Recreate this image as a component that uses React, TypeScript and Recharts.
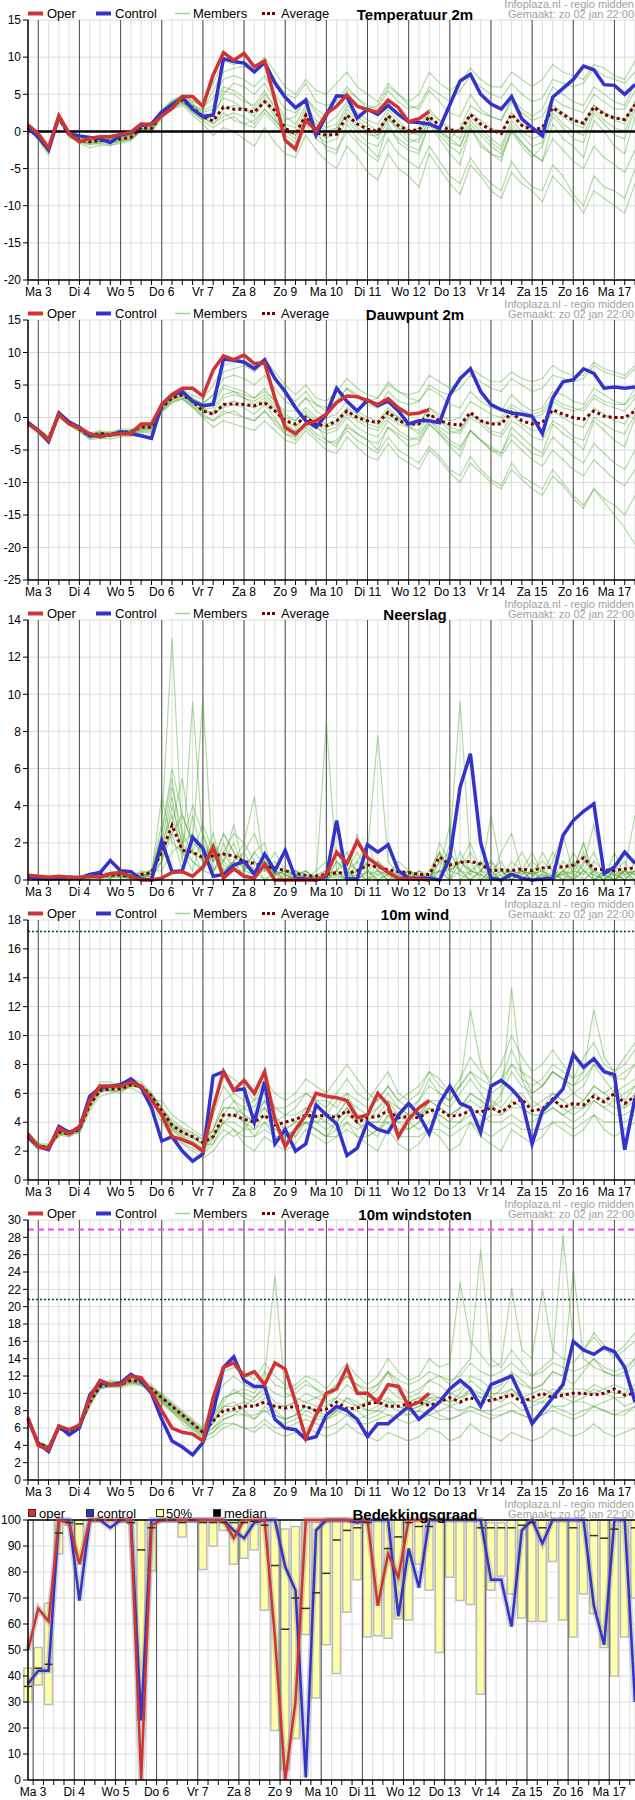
import React from 'react';
import { ComposedChart, LineChart, Line, Bar, XAxis, YAxis, CartesianGrid, ReferenceLine } from 'recharts';

const FONT = "'Liberation Sans Narrow', 'Arial Narrow', 'Liberation Sans', Arial, sans-serif";
const N = 60;

// ---------- categories / tick labels ----------
const dayLabels = ['Ma 3', 'Di 4', 'Wo 5', 'Do 6', 'Vr 7', 'Za 8', 'Zo 9', 'Ma 10', 'Di 11', 'Wo 12', 'Do 13', 'Vr 14', 'Za 15', 'Zo 16', 'Ma 17'];
const tempTicks = [-20, -15, -10, -5, 0, 5, 10, 15];
const dewTicks = [-25, -20, -15, -10, -5, 0, 5, 10, 15];
const rainTicks = [0, 2, 4, 6, 8, 10, 12, 14];
const windTicks = [0, 2, 4, 6, 8, 10, 12, 14, 16, 18];
const gustTicks = [0, 2, 4, 6, 8, 10, 12, 14, 16, 18, 20, 22, 24, 26, 28, 30];
const cloudTicks = [0, 10, 20, 30, 40, 50, 60, 70, 80, 90, 100];

// ---------- Temperatuur 2m ----------
const tempOper = [0.9,-0.3,-2.2,2.1,-0.3,-1.4,-0.9,-0.7,-0.7,-0.4,-0.1,1.0,0.9,2.1,3.1,4.7,4.7,3.4,7.6,10.6,9.6,10.5,8.7,9.5,4.3,-1.2,-2.4,1.5,0.1,2.4,3.4,4.9,3.4,2.9,2.6,4.2,3.2,1.3,1.7,2.7];
const tempCtrl = [0.4,-0.7,-2.5,2.0,-0.3,-0.6,-0.8,-1.0,-1.5,-0.5,-0.2,0.8,1.0,2.6,3.6,4.6,3.0,2.0,2.2,9.8,9.4,9.2,8.0,9.3,6.5,4.6,3.2,4.2,-0.5,2.2,4.8,4.7,1.8,3.0,2.3,3.5,2.3,1.3,1.2,1.0,0.4,3.6,6.8,7.7,5.0,3.7,3.0,4.7,1.7,0.5,-0.6,4.6,5.8,7.0,8.8,8.3,6.3,6.2,5.0,6.3];
const tempAvg = [0.5,-0.8,-2.3,1.8,-0.5,-1.2,-1.4,-1.2,-1.3,-1.0,-0.8,0.5,0.4,2.3,3.5,4.2,3.2,2.0,1.4,3.3,3.0,3.0,2.6,4.0,2.8,0.4,-0.3,2.2,-0.2,-0.5,-0.4,2.2,1.0,0.3,0.0,2.1,0.8,0.1,0.2,2.0,0.8,0.2,0.0,2.3,1.0,0.2,-0.3,2.3,0.8,0.2,0.5,3.2,2.3,1.5,1.1,3.3,2.3,1.8,1.6,3.6];
const tempM1 = [0.8,-0.5,-2.0,2.0,-0.3,-0.8,-1.0,-0.6,-0.8,-0.5,-0.2,1.0,1.0,2.8,4.0,4.5,3.5,3.0,5.5,8.0,8.5,8.8,8.0,9.0,7.0,5.0,4.5,6.5,4.0,3.5,4.0,6.0,4.5,3.5,3.0,5.5,4.0,3.0,3.5,6.0,5.0,4.0,5.5,7.5,6.0,5.0,4.5,6.5,5.0,4.0,4.5,7.0,6.5,6.0,6.5,8.5,7.5,7.0,6.5,8.0];
const tempM2 = [0.5,-1.0,-2.8,1.5,-0.6,-1.5,-1.8,-1.5,-1.5,-1.2,-1.0,0.2,0.0,2.0,3.0,3.8,2.5,1.5,0.5,1.5,2.0,1.0,0.5,2.5,1.0,-0.5,-1.5,1.0,-1.0,-2.0,-2.5,0.0,-1.5,-3.0,-4.0,-1.0,-3.0,-4.0,-5.0,-2.0,-4.0,-6.0,-7.0,-3.5,-5.5,-7.0,-8.0,-4.0,-6.0,-7.5,-8.0,-4.5,-6.0,-8.5,-10.0,-6.0,-7.5,-8.0,-9.0,-5.0];
const tempM3 = [0.7,-0.8,-2.4,1.8,-0.4,-1.2,-1.3,-1.2,-1.0,-0.8,-0.5,0.6,0.5,2.5,3.8,4.2,3.0,2.5,2.0,5.0,6.5,6.0,5.0,6.5,4.0,2.0,1.0,3.5,1.5,0.5,1.0,3.5,2.0,1.0,0.0,2.5,1.0,0.0,0.5,3.0,1.5,0.0,-1.0,2.0,0.5,-1.0,-2.0,1.5,0.0,-1.0,-0.5,3.0,2.0,1.0,0.5,3.5,2.5,1.5,1.0,4.0];
const tempM4 = [0.6,-0.7,-2.2,2.1,-0.2,-1.0,-1.5,-1.3,-1.6,-1.3,-0.9,0.4,0.3,2.2,3.4,4.6,3.8,2.0,1.0,2.5,1.5,1.0,1.5,3.0,1.5,0.0,-0.5,2.5,0.0,-1.0,0.5,2.0,0.5,-0.5,-0.5,2.0,0.0,-1.5,-1.0,1.5,-0.5,-2.0,-3.0,0.5,-1.5,-3.0,-3.5,0.0,-2.0,-3.5,-2.0,2.0,0.5,-1.0,-1.5,2.5,1.0,-0.5,-1.0,3.0];
const tempM5 = [0.9,-0.4,-2.0,2.2,0.0,-0.7,-0.9,-0.8,-0.5,-0.4,0.0,1.2,1.1,3.0,4.2,4.8,4.0,3.5,6.5,9.5,9.0,9.5,8.5,10.0,8.0,6.0,5.0,7.0,5.5,5.0,6.5,8.0,6.0,5.0,4.0,6.5,5.0,3.5,3.0,5.5,4.0,2.5,2.0,5.0,3.0,2.0,1.5,4.5,3.0,2.0,3.0,6.0,5.0,4.0,3.5,6.0,5.0,4.0,3.5,6.5];
const tempM6 = [0.4,-1.2,-3.2,1.4,-0.8,-1.6,-2.2,-1.8,-1.9,-1.6,-1.2,0.0,-0.2,1.8,3.0,3.5,2.2,1.0,-0.5,0.5,0.0,-1.0,-2.0,0.5,-1.5,-3.0,-3.5,-0.5,-2.5,-4.0,-5.0,-2.0,-3.5,-5.5,-6.5,-3.0,-5.0,-6.0,-7.5,-3.0,-5.0,-7.0,-8.5,-4.5,-6.0,-8.0,-9.0,-5.5,-7.0,-8.0,-9.5,-6.0,-7.5,-9.0,-11.0,-8.0,-9.0,-10.0,-11.0,-7.0];
const tempM7 = [0.8,-0.6,-2.5,1.9,-0.5,-1.1,-1.2,-1.0,-1.1,-0.7,-0.6,0.8,0.7,2.6,3.6,4.4,3.3,2.8,3.5,6.0,5.5,4.5,3.0,5.0,3.5,1.5,2.0,4.5,3.0,2.0,3.5,5.5,4.5,3.0,3.5,6.0,5.0,4.0,5.0,8.0,6.5,5.5,6.5,8.5,7.0,6.0,6.0,8.0,7.0,6.0,7.0,9.0,8.0,7.5,7.0,9.0,8.5,7.5,7.0,9.5];
const tempM8 = [0.6,-0.9,-2.6,1.7,-0.7,-1.3,-1.6,-1.4,-1.2,-1.0,-0.7,0.3,0.4,2.4,3.5,4.0,3.0,2.0,1.5,3.0,3.5,3.0,2.0,4.0,2.0,-1.0,-2.0,1.5,0.5,-2.5,-3.0,1.0,-1.0,-2.0,-3.5,1.0,-1.5,-2.5,-3.0,1.0,-1.0,-3.0,-4.5,0.5,-2.0,-3.0,-4.0,0.5,-1.5,-3.0,-4.0,1.0,-1.0,-2.0,-3.5,1.5,0.0,-2.0,-3.0,2.0];
const tempM9 = [0.7,-0.6,-2.3,2.0,-0.4,-1.0,-1.1,-0.9,-1.0,-0.6,-0.4,0.7,0.6,2.6,3.9,4.7,3.6,2.6,3.0,5.5,5.0,4.0,3.5,5.5,3.0,1.0,0.5,3.0,1.0,0.0,0.5,3.0,1.5,0.5,-0.5,2.0,0.5,-1.0,-1.5,1.5,0.0,-1.5,-2.0,1.5,0.0,-1.5,-2.5,1.0,-0.5,-2.0,-1.5,2.5,1.0,0.0,-0.5,3.0,1.5,0.5,0.0,3.5];
const tempM10 = [0.6,-0.8,-2.6,1.8,-0.5,-1.3,-1.5,-1.3,-1.4,-1.1,-0.9,0.4,0.2,2.2,3.3,4.0,2.8,1.8,1.0,2.0,2.5,2.0,1.0,3.0,1.5,0.0,-1.0,2.0,0.5,-0.5,0.0,2.5,1.0,0.0,-1.0,1.5,0.5,-0.5,0.0,2.5,1.5,0.5,0.0,2.5,1.5,0.5,0.0,2.5,1.0,0.0,0.5,3.5,2.5,1.5,1.0,3.5,2.5,2.0,1.5,4.0];
const tempM11 = [0.8,-0.5,-2.1,2.1,-0.2,-0.9,-1.2,-1.1,-1.2,-0.9,-0.6,0.9,0.8,2.7,4.0,4.9,4.2,3.2,4.5,7.0,7.5,7.0,6.0,7.5,5.0,3.0,2.5,4.5,2.5,1.0,2.0,4.0,2.5,1.5,1.0,3.0,1.5,0.0,-0.5,2.0,0.5,-1.0,-2.0,1.0,-0.5,-2.0,-3.0,0.0,-1.5,-3.0,-4.0,-1.0,-2.5,-4.0,-5.0,-2.0,-3.5,-4.5,-5.5,-2.5];
const tempM12 = [0.5,-1.0,-2.7,1.6,-0.6,-1.4,-1.7,-1.6,-1.8,-1.4,-1.1,0.1,0.1,2.1,3.2,3.9,2.6,1.5,2.5,4.5,4.0,3.0,2.5,4.5,2.5,0.5,-0.5,2.0,-0.5,-1.5,-1.0,1.5,0.0,-1.5,-2.0,0.5,-1.0,-2.0,-2.5,1.0,0.0,-1.0,0.5,3.5,2.5,2.0,1.5,4.0,2.5,1.5,2.0,4.5,3.5,3.0,2.5,5.0,4.0,3.0,3.0,5.5];

// ---------- Dauwpunt 2m ----------
const dewOper = [-1.0,-2.0,-3.5,0.5,-1.0,-1.6,-2.5,-3.0,-2.6,-2.5,-2.5,-1.0,-1.0,2.0,3.5,4.5,4.5,3.3,7.3,9.5,8.9,9.6,8.3,8.4,3.0,-1.5,-2.5,-1.0,-0.5,0.5,2.3,3.3,3.2,2.6,2.0,2.9,1.5,0.5,0.7,1.2];
const dewCtrl = [-0.8,-2.0,-3.7,0.7,-0.7,-1.5,-2.8,-2.8,-2.7,-2.2,-2.5,-2.8,-3.2,2.0,3.5,4.0,2.5,1.8,2.0,9.0,8.8,8.5,7.5,8.9,6.0,4.0,1.5,-0.5,-1.5,0.5,4.5,2.5,1.0,2.7,1.8,2.5,1.0,-1.0,-0.5,-0.5,-0.8,3.5,6.0,7.5,4.0,2.0,1.2,0.7,0.5,0.2,-2.5,3.0,5.5,5.8,7.5,6.8,4.5,4.7,4.5,4.7];
const dewAvg = [-0.8,-2.0,-3.3,0.5,-0.8,-1.8,-2.8,-2.5,-2.6,-2.3,-2.2,-1.5,-1.5,1.5,3.0,3.5,2.5,1.0,0.5,2.0,2.1,2.0,1.8,2.3,1.0,-0.5,-1.0,0.0,-1.0,-1.3,-0.5,1.0,0.0,-0.5,-0.8,0.8,-0.5,-1.0,-1.0,0.5,-0.5,-1.0,-1.2,0.8,-0.5,-1.0,-1.0,0.8,-0.5,-1.0,-0.8,1.2,0.5,0.0,-0.3,1.0,0.2,0.0,0.0,1.0];
const dewM1 = [-0.6,-1.8,-3.0,0.8,-0.6,-1.5,-2.5,-2.2,-2.4,-2.0,-2.0,-1.2,-1.3,1.8,3.5,4.0,3.0,2.0,3.5,7.0,7.5,8.0,7.0,8.5,6.0,3.5,2.5,4.0,2.0,1.5,2.5,4.5,3.0,2.0,1.5,4.0,2.5,2.0,2.5,5.0,4.0,3.5,4.5,6.5,5.5,4.5,4.0,6.0,5.0,4.0,4.5,6.5,6.0,5.5,6.0,8.0,7.0,6.5,6.0,7.5];
const dewM2 = [-1.0,-2.3,-3.8,0.2,-1.0,-2.0,-3.2,-3.0,-3.0,-2.8,-2.7,-2.0,-2.0,1.0,2.5,3.0,1.8,0.5,-0.5,0.5,1.0,0.0,-0.5,1.0,-0.5,-2.0,-3.0,-1.0,-2.5,-3.5,-4.0,-2.0,-3.5,-4.5,-5.5,-3.0,-5.0,-6.0,-7.0,-4.5,-6.0,-8.0,-9.0,-6.0,-8.0,-9.5,-10.5,-7.0,-9.0,-10.0,-11.0,-8.0,-10.0,-12.0,-13.5,-11.0,-13.0,-15.0,-17.0,-19.5];
const dewM3 = [-0.8,-2.0,-3.4,0.5,-0.8,-1.8,-2.8,-2.6,-2.6,-2.3,-2.2,-1.6,-1.5,1.5,3.0,3.6,2.6,1.2,1.5,3.5,4.0,3.5,3.0,4.5,2.5,0.5,-0.5,1.5,0.0,-1.0,-0.5,1.5,0.5,-0.5,-1.0,1.0,0.0,-1.0,-1.0,1.5,0.0,-1.5,-2.0,0.5,-0.5,-2.0,-2.5,0.5,-1.0,-2.0,-2.0,1.0,0.0,-1.0,-1.5,1.5,0.5,-0.5,-1.0,1.5];
const dewM4 = [-0.7,-1.9,-3.2,0.6,-0.9,-1.7,-2.9,-2.4,-2.8,-2.4,-2.4,-1.8,-1.7,1.2,2.8,3.4,2.3,1.5,0.5,2.0,2.5,2.0,1.5,2.5,1.0,-1.0,-2.0,0.5,-1.5,-2.5,-2.0,0.0,-1.5,-2.5,-3.0,-0.5,-2.0,-3.0,-3.5,-1.0,-2.5,-4.0,-5.0,-2.0,-3.5,-5.0,-5.5,-2.5,-4.0,-5.5,-6.0,-3.0,-4.5,-6.0,-7.0,-4.0,-5.5,-7.0,-8.0,-5.0];
const dewM5 = [-0.5,-1.7,-2.9,1.0,-0.5,-1.4,-2.4,-2.0,-2.2,-1.8,-1.8,-1.0,-1.0,2.2,3.8,4.4,3.4,2.8,5.0,8.0,8.5,8.8,8.0,9.0,7.0,5.0,3.5,5.0,3.0,2.5,4.0,6.0,4.5,3.5,3.0,5.5,4.0,3.0,2.5,4.5,3.5,2.0,1.5,4.0,2.5,1.5,1.0,3.5,2.0,1.0,1.5,4.0,3.5,2.5,2.0,4.5,3.5,2.5,2.0,4.5];
const dewM6 = [-1.1,-2.5,-4.0,0.0,-1.2,-2.2,-3.4,-3.2,-3.3,-3.0,-2.9,-2.3,-2.4,0.8,2.2,2.8,1.5,0.0,-1.5,-0.5,-1.0,-1.5,-2.0,-0.5,-2.0,-3.5,-4.0,-2.0,-3.5,-5.0,-5.5,-3.0,-4.5,-6.0,-6.5,-4.0,-6.0,-7.0,-8.0,-5.0,-6.5,-8.5,-10.0,-7.0,-8.5,-10.0,-11.0,-8.0,-9.5,-11.0,-12.0,-9.0,-10.5,-12.5,-14.0,-11.0,-12.5,-13.5,-15.0,-12.0];
const dewM7 = [-0.6,-1.8,-3.1,0.7,-0.7,-1.6,-2.6,-2.3,-2.5,-2.1,-2.1,-1.4,-1.4,1.6,3.2,3.8,2.8,1.8,2.5,5.0,4.5,4.0,3.0,4.0,2.5,1.0,1.0,3.0,2.0,1.0,2.5,4.5,3.5,2.5,3.0,5.0,4.0,3.5,4.0,6.5,5.5,4.5,5.5,7.5,6.5,5.5,5.5,7.0,6.0,5.5,6.0,8.0,7.0,6.5,6.5,8.5,7.5,7.0,6.5,8.0];
const dewM8 = [-0.9,-2.1,-3.5,0.3,-1.1,-1.9,-3.0,-2.8,-2.7,-2.5,-2.5,-1.9,-1.8,1.3,2.7,3.2,2.0,1.0,0.5,1.5,2.0,1.5,0.5,2.0,0.0,-2.5,-3.0,-0.5,-1.0,-3.5,-4.5,-1.0,-2.5,-3.5,-5.0,-1.5,-3.0,-4.5,-4.0,-1.0,-2.5,-4.5,-6.0,-2.0,-3.5,-4.5,-5.5,-1.5,-3.0,-4.5,-5.5,-1.0,-2.5,-3.5,-5.0,-0.5,-2.0,-3.5,-4.5,0.0];
const dewM9 = [-0.7,-1.9,-3.3,0.6,-0.8,-1.7,-2.7,-2.4,-2.5,-2.2,-2.1,-1.5,-1.4,1.6,3.1,3.7,2.7,1.5,2.0,4.5,4.0,3.0,2.5,3.5,2.0,0.0,-0.5,1.0,-0.5,-1.5,-1.0,1.0,0.0,-1.0,-1.5,0.5,-0.5,-1.5,-2.0,0.5,-0.5,-2.0,-2.5,0.0,-1.0,-2.5,-3.0,-0.5,-1.5,-3.0,-3.5,-0.5,-1.5,-3.0,-3.5,0.0,-1.0,-2.0,-2.5,0.5];
const dewM10 = [-0.9,-2.2,-3.6,0.4,-0.9,-1.9,-2.9,-2.7,-2.8,-2.4,-2.3,-1.7,-1.6,1.4,2.9,3.4,2.2,0.8,1.0,3.0,3.5,3.0,2.0,3.0,1.5,-0.5,-1.5,0.5,-1.0,-2.0,-1.5,0.5,-0.5,-1.5,-2.0,0.0,-1.0,-1.5,-1.0,1.5,0.5,-0.5,0.0,2.5,1.5,0.5,0.0,2.0,1.0,0.5,1.0,3.0,2.0,1.5,1.0,3.0,2.0,1.5,1.0,3.0];
const dewM11 = [-0.8,-2.0,-3.2,0.6,-0.7,-1.6,-2.6,-2.3,-2.4,-2.1,-2.0,-1.3,-1.2,1.7,3.3,3.9,2.9,2.2,3.5,6.0,6.5,6.0,5.0,6.5,4.5,2.5,1.5,3.0,1.0,0.0,0.5,2.5,1.0,0.0,-0.5,1.5,0.0,-1.5,-2.5,-0.5,-2.0,-3.5,-4.5,-2.0,-3.5,-5.0,-6.0,-3.5,-5.0,-6.5,-7.5,-5.0,-6.5,-8.0,-9.0,-6.5,-8.0,-9.5,-10.5,-8.0];
const dewM12 = [-1.0,-2.4,-3.9,0.1,-1.1,-2.1,-3.1,-2.9,-2.9,-2.7,-2.6,-2.1,-2.2,0.9,2.4,2.9,1.7,0.2,-0.5,1.0,0.5,0.0,-0.5,1.0,-1.0,-2.5,-3.5,-1.5,-3.0,-4.0,-3.5,-1.5,-2.5,-3.5,-4.0,-1.5,-2.5,-3.5,-3.0,-0.5,-1.5,-2.5,-2.0,0.5,-0.5,-1.0,-0.5,1.5,0.5,0.0,0.5,2.5,1.5,1.0,1.5,3.5,2.5,2.0,2.0,3.5];

// ---------- Neerslag ----------
const rainOper = [0.25,0.2,0.15,0.2,0.15,0.15,0.2,0.15,0.35,0.4,0.2,0.0,0.0,0.1,0.4,0.45,0.2,0.7,1.75,0.1,0.6,0.2,0.1,0.85,0.0,0.0,0.0,0.0,0.0,0.3,1.5,0.9,2.1,1.2,0.8,0.4,0.1,0.05,0.05,0.0];
const rainCtrl = [0.15,0.1,0.05,0.1,0.15,0.1,0.3,0.4,1.05,0.5,0.45,0.05,0.0,2.1,0.45,0.5,2.3,1.7,0.2,0.3,0.8,1.0,0.3,1.4,0.5,1.6,0.1,0.05,0.0,0.2,3.2,0.05,0.05,1.9,1.5,1.9,0.5,0.1,0.1,0.1,0.0,1.2,5.0,6.8,2.0,0.1,0.0,0.3,0.1,0.0,0.05,0.1,2.4,3.2,3.7,4.1,0.35,0.7,1.5,0.9];
const rainAvg = [0.25,0.15,0.1,0.1,0.1,0.1,0.2,0.3,0.25,0.3,0.15,0.3,0.4,1.5,2.95,1.6,1.5,1.2,1.3,1.4,1.3,1.0,0.9,0.7,0.65,0.5,0.35,0.25,0.2,0.3,0.4,0.35,0.5,0.8,0.7,0.55,0.45,0.4,0.3,0.3,1.25,0.8,0.95,1.0,0.85,0.5,0.55,0.5,0.6,0.5,0.65,0.7,0.7,0.8,1.2,0.6,0.55,0.5,0.6,0.65];
const rainM1 = [0.2,0.1,0.1,0.0,0.1,0.0,0.2,0.3,0.2,0.3,0.1,0.2,0.5,3.0,13.0,2.0,1.0,0.5,1.5,0.8,0.5,1.0,0.3,0.5,0.2,0.5,0.0,0.0,0.3,0.5,0.2,0.0,1.0,2.0,0.5,0.0,0.0,0.2,0.0,0.0,1.5,0.5,1.0,2.0,0.5,0.0,0.3,0.5,1.5,0.5,0.2,0.0,0.5,1.0,0.5,0.3,0.0,0.5,1.0,0.2];
const rainM2 = [0.3,0.2,0.0,0.1,0.0,0.1,0.1,0.5,0.3,0.2,0.0,0.3,0.2,1.5,4.5,1.0,9.6,2.0,1.0,2.5,1.5,0.5,1.0,0.0,0.5,0.0,0.2,0.5,0.0,0.0,0.5,1.5,0.3,0.0,1.0,0.5,0.2,0.0,0.5,0.3,0.0,2.0,9.6,1.0,0.0,0.5,0.0,1.0,0.5,0.0,1.5,0.5,0.0,0.2,0.8,3.0,0.5,0.0,0.3,0.5];
const rainM3 = [0.1,0.2,0.1,0.0,0.2,0.1,0.0,0.2,0.4,0.1,0.2,0.5,0.3,2.5,6.0,3.5,2.0,9.8,0.5,1.0,3.0,0.5,1.5,2.0,0.0,0.3,0.0,0.2,0.0,8.5,0.5,0.0,2.5,0.5,0.0,0.3,1.0,0.5,0.0,0.2,0.5,0.0,1.0,0.5,0.2,3.5,0.5,0.0,0.0,0.5,0.0,1.0,2.5,0.3,0.0,0.5,0.0,1.5,0.2,0.0];
const rainM4 = [0.2,0.0,0.2,0.1,0.0,0.2,0.3,0.1,0.1,0.5,0.1,0.0,0.6,1.0,3.0,5.5,1.5,1.0,2.5,0.3,1.0,2.0,4.5,0.5,1.0,0.2,0.5,0.0,0.0,0.3,0.0,0.5,0.0,1.5,7.8,1.0,0.3,0.0,0.2,0.0,0.3,1.5,0.5,0.0,0.0,0.2,0.5,0.0,0.3,1.0,0.5,0.0,0.3,0.0,0.5,1.5,0.2,0.0,0.5,3.5];
const rainM5 = [0.3,0.1,0.0,0.2,0.1,0.0,0.1,0.2,0.1,0.2,0.3,0.1,0.2,4.5,2.0,1.5,0.5,2.5,1.0,1.5,0.5,0.3,0.0,1.0,0.5,1.5,0.0,0.3,0.0,0.0,0.3,0.0,0.5,0.2,0.0,0.0,0.5,0.3,0.0,0.0,0.5,3.0,0.0,0.5,0.3,0.0,1.5,2.5,0.5,0.3,0.0,0.5,0.0,0.5,2.0,0.0,0.5,0.3,0.0,0.5];
const rainM6 = [0.2,0.1,0.1,0.0,0.0,0.1,0.2,0.4,0.2,0.1,0.2,0.2,0.4,2.0,5.0,2.5,1.5,0.5,0.3,2.0,0.5,1.5,0.5,0.0,0.3,0.5,0.3,0.0,0.5,1.0,0.0,0.0,0.3,0.0,0.5,0.2,0.0,0.0,0.5,0.0,1.0,0.5,0.3,0.0,0.5,1.0,0.2,0.0,0.5,0.0,0.3,0.0,0.5,0.0,0.5,0.0,0.3,0.0,0.5,0.0];
const rainM7 = [0.1,0.1,0.0,0.1,0.1,0.0,0.3,0.2,0.3,0.2,0.1,0.4,0.1,1.0,2.5,0.5,3.5,1.0,2.0,0.5,1.0,0.2,0.5,1.0,0.3,0.0,0.3,0.5,0.0,0.2,1.0,0.3,0.0,0.5,0.3,0.0,0.0,0.3,0.0,0.5,1.5,0.0,0.5,0.3,1.0,0.0,0.0,0.5,0.0,0.5,0.0,0.3,0.0,1.0,0.0,0.5,0.0,0.3,0.5,0.0];
const rainM8 = [0.2,0.2,0.1,0.0,0.1,0.1,0.1,0.3,0.2,0.4,0.2,0.3,0.3,2.0,3.5,1.5,1.0,0.5,1.5,1.0,2.0,0.5,0.3,1.5,0.5,0.3,0.0,0.0,0.2,0.5,0.3,0.5,1.0,0.3,0.5,0.0,0.2,0.5,0.2,0.0,0.5,0.5,1.0,0.5,0.3,0.0,0.5,0.3,0.5,0.3,0.5,0.2,0.3,0.5,0.3,1.0,0.5,0.2,0.5,0.3];
const rainM9 = [0.2,0.1,0.1,0.1,0.0,0.1,0.2,0.3,0.3,0.2,0.1,0.2,0.3,1.5,2.5,3.5,2.0,1.5,1.0,2.5,1.5,1.0,0.5,1.0,0.5,0.3,0.0,0.5,0.0,0.3,0.5,0.0,0.3,1.0,0.5,0.3,0.5,0.0,0.3,0.0,2.0,1.0,0.5,1.5,0.5,0.3,0.0,0.5,0.3,0.5,1.0,0.5,0.3,1.5,0.5,0.0,0.3,0.5,0.0,1.0];
const rainM10 = [0.3,0.2,0.1,0.0,0.1,0.2,0.1,0.2,0.2,0.3,0.2,0.4,0.5,0.5,1.5,2.0,4.0,2.5,0.5,1.5,2.5,2.0,1.0,0.5,1.5,0.5,0.3,0.0,0.2,0.0,0.5,1.0,0.5,0.0,0.3,0.5,0.0,0.5,0.0,0.3,0.5,0.0,1.5,0.5,1.0,0.5,0.0,0.3,0.5,0.0,0.3,1.5,0.5,0.0,1.0,0.5,0.3,0.0,0.5,0.3];
const rainM11 = [0.1,0.1,0.0,0.1,0.2,0.1,0.2,0.2,0.1,0.3,0.2,0.1,0.4,2.5,5.5,1.5,1.5,3.0,1.5,0.5,1.0,1.5,2.5,1.0,0.3,0.5,0.5,0.3,0.0,0.5,1.5,0.5,0.0,0.5,1.0,0.5,0.3,0.0,0.5,0.0,1.0,1.5,0.5,0.0,0.5,1.0,0.5,0.0,0.5,1.5,0.3,0.0,0.5,0.3,1.5,0.0,0.5,0.3,0.0,0.5];
const rainM12 = [0.2,0.1,0.2,0.1,0.1,0.0,0.3,0.1,0.4,0.2,0.3,0.2,0.2,1.0,4.0,2.0,2.5,1.0,2.0,1.0,0.5,0.5,1.5,0.8,0.5,0.0,0.5,0.0,0.3,0.0,1.0,0.5,1.5,0.5,0.0,0.3,0.0,0.5,0.3,0.0,1.5,0.5,1.0,0.3,0.0,0.5,1.0,0.0,0.5,0.3,0.5,0.0,1.0,0.5,2.0,0.3,0.0,0.5,0.3,0.5];

// ---------- 10m wind ----------
const windOper = [3.2,2.3,2.2,3.6,3.2,3.7,5.5,6.5,6.5,6.5,6.8,6.5,5.5,4.5,3.0,2.8,2.5,2.0,5.0,7.5,6.2,6.9,6.0,7.5,4.2,2.3,3.5,4.5,6.0,5.8,5.7,5.5,4.3,4.5,6.0,5.2,3.0,4.2,5.0,5.5];
const windCtrl = [3.0,2.3,2.1,3.7,3.3,3.6,5.8,6.4,6.5,6.6,7.0,6.4,5.0,2.7,3.0,2.0,1.3,1.8,7.2,7.5,6.2,6.3,4.0,6.8,2.5,3.5,2.0,2.5,5.2,4.5,3.9,1.7,2.2,4.0,3.5,3.3,4.5,5.3,4.5,3.2,5.3,6.5,5.3,5.0,3.3,6.5,6.9,6.3,5.5,2.5,4.8,5.5,6.3,8.7,7.8,8.4,7.5,7.3,2.1,5.7];
const windAvg = [3.0,2.3,2.3,3.3,3.2,3.5,5.2,6.2,6.3,6.3,6.6,6.5,5.8,4.8,3.8,3.3,3.0,2.6,3.0,4.5,4.5,4.2,4.0,4.5,3.8,4.0,4.2,4.5,4.4,4.5,4.3,4.8,4.0,4.3,4.4,4.8,4.3,4.4,4.3,4.8,4.9,4.4,4.5,4.8,4.7,5.0,4.7,5.2,5.6,4.8,4.9,5.6,5.0,5.3,5.2,5.8,5.4,6.0,5.3,5.8];
const windM1 = [3.0,2.4,2.2,3.4,3.0,3.6,5.5,6.8,6.8,6.5,7.0,6.8,6.0,5.0,4.0,3.5,3.2,2.8,3.5,5.5,6.0,5.5,5.0,6.5,5.0,4.5,5.0,6.0,5.5,5.0,6.0,7.0,6.0,5.5,6.5,7.5,6.0,5.5,6.0,7.5,7.0,6.0,7.0,8.5,7.5,7.0,8.0,10.0,8.5,7.5,8.0,9.0,8.0,7.0,8.5,9.5,8.0,7.5,8.5,9.5];
const windM2 = [2.8,2.0,2.4,3.0,3.4,3.2,4.8,5.8,6.0,6.2,6.4,6.0,5.2,4.0,3.0,2.5,2.0,1.5,2.0,3.0,3.5,2.5,2.0,3.0,2.5,2.0,2.5,3.5,3.0,2.5,3.0,4.0,3.0,2.5,2.0,3.5,2.5,2.0,2.5,3.5,3.0,2.0,2.5,4.0,3.0,2.5,2.0,3.5,3.0,2.5,3.0,4.0,3.5,3.0,3.5,4.5,3.5,3.0,3.5,4.0];
const windM3 = [3.2,2.6,2.0,3.8,3.3,3.8,5.8,6.5,6.4,6.8,6.9,6.6,5.5,5.5,4.5,4.0,3.5,3.0,4.5,6.5,5.5,4.5,4.0,5.5,4.5,3.5,3.0,4.5,4.0,4.5,5.5,6.0,4.5,4.0,5.0,6.0,5.0,4.5,5.5,7.0,6.0,5.5,6.5,11.8,8.0,6.5,7.0,9.0,7.5,6.0,6.5,7.5,7.0,6.0,6.5,8.0,7.0,6.0,6.5,7.0];
const windM4 = [2.9,2.2,2.3,3.2,3.1,3.4,5.0,6.0,6.6,6.4,6.6,6.4,5.8,4.5,3.5,2.8,2.5,2.2,3.0,4.0,4.5,4.0,3.5,4.5,3.5,3.0,3.5,4.5,4.0,3.5,4.0,5.0,4.0,3.5,3.0,4.5,3.5,3.5,4.0,5.0,4.5,4.0,5.0,6.0,5.5,5.0,5.5,13.3,7.0,5.5,5.0,6.0,5.5,5.0,5.5,6.5,6.0,5.5,6.0,6.5];
const windM5 = [3.3,2.5,2.5,3.5,3.2,3.5,5.3,6.3,6.2,6.0,6.6,6.3,5.6,4.8,3.8,3.3,3.0,2.5,5.0,7.5,7.0,6.5,5.5,7.0,6.0,5.5,6.0,7.0,6.5,6.0,7.0,8.0,7.0,6.0,5.5,6.5,5.5,5.0,5.5,6.5,6.0,5.5,6.5,7.5,6.5,6.0,6.5,8.0,7.0,6.5,7.0,8.0,7.5,7.0,7.5,11.8,8.5,7.5,8.0,9.0];
const windM6 = [2.9,2.3,2.1,3.1,3.0,3.3,5.2,6.1,6.3,6.6,6.7,6.5,5.9,4.2,3.2,2.6,2.2,1.8,2.5,3.5,3.0,3.5,4.5,5.0,4.0,3.5,4.0,5.0,4.5,4.0,4.5,5.5,5.0,4.5,4.5,5.5,5.0,4.5,4.5,5.5,5.0,4.5,5.0,6.0,5.5,5.0,4.5,5.5,5.0,4.5,4.5,5.5,5.0,4.5,5.0,6.0,5.5,5.0,5.0,6.0];
const windM7 = [3.1,2.4,2.4,3.3,3.3,3.6,5.4,6.4,6.1,6.3,6.5,6.6,5.7,4.6,3.6,3.0,2.6,2.0,3.5,5.0,5.0,4.0,3.0,4.0,3.0,2.5,3.0,4.0,3.5,3.0,3.5,4.5,4.0,3.0,3.5,4.5,4.0,3.5,4.0,5.5,5.5,5.0,6.0,7.0,6.0,5.0,6.0,7.5,6.5,6.0,6.5,7.5,7.0,6.5,7.5,8.5,7.5,7.0,7.0,8.0];
const windM8 = [3.0,2.3,2.3,3.5,3.1,3.7,5.6,6.2,6.5,6.4,6.5,6.4,5.5,4.4,3.4,2.9,2.4,2.0,2.8,4.5,5.5,5.0,4.5,5.5,4.0,3.0,3.5,4.0,3.5,3.0,4.0,5.0,4.5,4.0,4.0,5.0,4.5,4.0,4.5,5.0,4.0,3.5,4.0,5.0,4.5,4.0,4.0,4.5,4.0,4.0,4.5,5.0,4.5,4.0,4.5,5.5,5.0,4.5,4.5,5.0];
const windM9 = [3.1,2.5,2.2,3.4,3.2,3.5,5.3,6.3,6.4,6.5,6.7,6.5,5.9,4.9,3.9,3.4,3.0,2.5,3.5,5.0,5.0,4.5,4.0,5.0,4.0,4.5,4.5,5.0,4.5,4.5,4.5,5.5,4.5,4.5,5.0,5.5,4.5,4.5,4.5,5.5,5.0,4.5,5.0,5.5,5.0,5.5,5.0,6.0,6.0,5.0,5.5,6.0,5.5,6.0,5.5,6.5,6.0,6.5,5.5,6.5];
const windM10 = [2.9,2.2,2.2,3.2,3.1,3.4,5.1,6.1,6.2,6.2,6.5,6.4,5.7,4.7,3.7,3.2,2.9,2.4,2.5,4.0,4.0,3.5,3.5,4.0,3.5,3.5,4.0,4.0,4.0,4.0,3.5,4.0,3.5,4.0,4.0,4.0,4.0,4.0,3.5,4.0,4.5,4.0,4.0,4.5,4.0,4.5,4.5,5.0,5.0,4.5,4.5,5.0,4.5,5.0,5.0,5.5,5.0,5.5,5.0,5.5];
const windM11 = [3.2,2.4,2.4,3.4,3.3,3.6,5.4,6.3,6.4,6.3,6.6,6.6,6.0,5.0,4.2,3.6,3.3,2.8,3.0,4.5,4.5,5.0,5.5,6.0,5.0,5.0,5.5,6.0,5.5,5.5,5.0,6.0,5.5,5.0,5.5,6.5,5.5,6.0,6.5,7.5,6.5,6.0,6.5,7.5,7.0,6.5,7.0,8.0,7.5,7.0,6.5,7.5,7.0,6.5,7.0,8.0,7.5,7.0,7.5,8.0];
const windM12 = [3.0,2.3,2.2,3.3,3.2,3.5,5.2,6.2,6.3,6.4,6.6,6.4,5.8,4.6,3.6,3.1,2.7,2.2,3.0,4.0,3.5,3.0,3.0,3.5,3.0,3.0,3.5,4.0,3.5,3.0,3.0,3.5,3.0,3.0,3.5,4.0,3.0,3.0,3.0,3.5,3.5,3.0,3.5,4.0,3.5,3.0,3.5,4.0,3.5,3.5,3.5,4.0,4.0,3.5,4.0,4.5,4.0,4.0,4.0,4.5];

// ---------- 10m windstoten ----------
const gustOper = [7.2,4.0,3.5,6.2,5.8,6.3,9.5,11.5,11.0,11.0,12.0,11.8,10.2,8.0,6.0,5.5,5.3,4.5,9.5,13.0,13.5,12.0,12.5,11.0,13.5,12.8,9.0,4.8,7.5,10.0,10.5,13.0,10.0,10.0,9.0,11.0,10.8,8.5,9.0,10.0];
const gustCtrl = [7.0,4.2,3.3,6.2,5.2,6.0,9.8,11.2,11.0,11.2,12.2,11.5,10.0,7.0,4.5,3.8,2.9,4.3,7.8,13.0,14.2,11.5,10.8,10.8,7.0,6.0,5.8,4.7,5.0,7.5,8.5,8.0,7.0,5.0,6.5,6.5,7.5,8.5,7.0,8.0,9.0,10.5,11.5,10.5,8.5,11.0,11.5,12.0,9.5,6.5,8.0,9.5,11.0,16.0,15.0,14.5,15.3,14.8,13.0,9.0];
const gustAvg = [7.0,4.2,3.8,6.0,5.5,6.2,9.0,10.8,11.0,11.0,11.5,11.3,10.5,9.5,8.5,7.5,6.5,5.5,6.8,8.0,8.2,8.5,8.5,9.0,8.5,8.3,8.5,8.5,8.0,8.2,9.0,8.2,8.3,8.8,9.0,8.5,8.5,8.8,9.0,8.6,9.0,9.5,9.0,9.5,9.0,9.2,9.5,9.8,9.0,9.5,10.0,9.5,9.8,10.0,10.0,9.8,10.0,10.5,9.8,10.0];
const gustM1 = [7.0,4.3,3.6,6.2,5.6,6.4,9.5,11.5,11.2,11.0,11.8,11.5,10.8,9.5,8.5,7.5,6.5,5.5,7.5,9.5,10.0,10.5,10.0,12.0,23.6,10.0,9.5,9.0,9.5,10.0,11.0,12.0,10.5,9.5,10.5,12.5,10.0,9.5,10.0,11.5,12.0,11.0,12.5,14.0,26.6,14.0,13.0,15.0,13.5,12.0,13.0,14.0,28.2,16.0,15.0,17.0,15.5,14.0,15.0,16.0];
const gustM2 = [6.8,4.0,4.0,5.8,5.4,6.0,8.5,10.5,10.8,10.8,11.2,11.0,10.2,9.0,8.0,6.5,5.5,4.5,5.0,6.0,6.5,6.0,5.5,6.5,5.5,5.0,5.5,6.0,5.5,5.0,5.5,6.5,5.5,5.0,4.5,5.5,5.0,4.5,5.0,6.0,5.5,4.5,5.0,6.5,5.5,5.0,4.5,5.5,5.0,4.5,5.0,6.0,5.5,5.0,5.5,6.5,5.5,5.0,5.5,6.0];
const gustM3 = [7.2,4.5,3.8,6.4,5.8,6.6,9.8,11.2,11.5,11.3,11.6,11.4,10.6,10.0,9.0,8.0,7.0,6.0,8.5,11.0,12.0,11.0,10.5,12.5,11.0,10.5,11.0,12.0,11.5,10.5,12.0,13.5,12.0,11.0,12.0,14.0,12.5,11.5,12.0,14.0,13.0,13.5,22.8,16.0,14.5,13.0,13.5,22.2,15.0,14.0,22.0,15.0,14.0,13.5,15.0,16.5,15.0,14.5,15.5,17.0];
const gustM4 = [6.9,4.1,3.7,6.0,5.5,6.1,8.8,10.8,11.0,10.9,11.4,11.2,10.4,9.2,8.2,7.0,6.0,5.0,6.0,7.5,8.0,7.5,7.0,8.5,7.5,7.0,7.5,8.5,8.0,7.5,8.0,9.5,8.5,8.0,8.5,9.5,8.5,8.0,8.5,9.5,9.0,8.5,9.0,10.5,9.5,9.0,9.5,10.5,9.5,9.0,9.5,10.5,10.0,9.5,10.0,11.0,10.5,10.0,10.0,11.0];
const gustM5 = [7.3,4.4,3.9,6.3,5.9,6.5,9.6,11.0,11.3,11.4,11.9,11.6,11.0,9.8,8.8,7.8,6.8,5.8,9.0,12.5,13.0,12.5,11.5,13.5,12.0,11.0,10.5,11.5,10.5,9.5,10.5,12.0,11.0,10.0,11.0,12.5,11.0,10.0,10.5,11.5,11.0,10.0,10.5,12.0,11.5,10.5,11.0,12.5,11.5,10.5,11.0,12.5,12.0,24.3,14.0,13.0,12.5,12.0,12.5,14.0];
const gustM6 = [6.7,3.9,3.5,5.9,5.3,5.9,8.6,10.6,10.7,10.6,11.0,10.9,10.0,8.8,7.8,6.8,5.8,4.8,5.5,7.0,7.5,8.5,9.5,10.5,9.0,8.5,9.0,10.0,9.5,9.0,9.5,11.0,10.0,9.0,9.5,10.5,9.5,9.0,9.5,10.0,9.5,9.0,9.5,10.5,10.0,9.5,9.0,10.0,9.5,9.0,9.0,10.0,9.5,9.0,9.5,10.5,10.0,9.5,9.5,10.5];
const gustM7 = [7.1,4.2,3.7,6.1,5.7,6.3,9.2,11.1,10.9,11.1,11.5,11.3,10.5,9.4,8.4,7.2,6.2,5.2,6.8,8.5,9.0,8.0,7.0,8.0,7.0,6.5,7.0,8.0,7.5,7.0,7.5,8.5,8.0,7.0,7.5,8.5,8.0,7.5,8.0,9.5,9.5,9.0,10.0,11.5,10.5,9.5,10.5,12.0,11.0,10.5,11.0,12.5,12.0,11.0,12.5,14.0,12.5,12.0,12.0,13.5];
const gustM8 = [7.0,4.2,3.9,6.4,5.6,6.2,9.3,10.9,11.1,11.2,11.3,11.1,10.3,9.2,8.0,7.3,6.3,5.3,6.5,9.0,10.5,9.5,9.0,10.0,8.0,7.0,7.5,8.5,8.0,7.0,8.0,9.5,9.0,8.0,8.0,9.0,8.5,8.0,8.5,9.0,7.5,7.0,7.5,8.5,8.0,7.5,7.5,8.0,7.5,7.0,7.5,8.0,7.5,7.0,7.5,8.5,8.0,7.5,7.5,8.5];
const gustM9 = [7.0,4.3,3.8,6.1,5.6,6.3,9.1,10.9,11.0,11.1,11.5,11.3,10.6,9.6,8.6,7.6,6.6,5.6,6.5,8.5,8.5,9.0,8.5,9.5,8.5,8.5,9.0,9.0,8.5,8.5,9.5,9.0,8.5,9.0,9.5,9.0,9.0,9.0,9.5,9.0,9.5,10.0,9.5,10.0,9.5,10.0,10.0,10.5,9.5,10.0,10.5,10.0,10.5,10.5,10.5,10.0,10.5,11.0,10.5,10.5];
const gustM10 = [6.9,4.1,3.6,5.9,5.4,6.1,8.9,10.7,10.9,10.9,11.4,11.2,10.4,9.4,8.4,7.4,6.4,5.4,6.0,7.0,7.5,7.5,7.5,8.0,7.5,7.0,7.5,7.5,7.0,7.0,8.0,7.5,7.0,7.5,8.0,7.5,7.5,7.5,8.0,7.5,8.0,8.5,8.0,8.5,8.0,8.0,8.5,9.0,8.0,8.5,9.0,8.5,8.5,9.0,9.0,8.5,9.0,9.5,8.5,9.0];
const gustM11 = [7.1,4.4,3.9,6.2,5.7,6.4,9.4,11.2,11.2,11.2,11.7,11.4,10.7,9.7,8.7,7.7,6.7,5.7,7.0,9.5,10.0,10.0,9.5,11.0,10.0,9.5,10.0,11.0,10.5,10.0,11.0,12.0,11.0,10.5,11.0,12.5,11.5,11.0,11.5,12.5,12.0,11.5,12.0,13.5,12.5,12.0,12.5,13.5,12.5,12.0,12.5,13.5,13.0,12.5,13.0,14.0,13.0,12.5,13.0,14.0];
const gustM12 = [6.8,4.0,3.7,6.0,5.5,6.0,8.7,10.6,10.8,10.8,11.2,11.0,10.2,9.0,8.0,7.0,6.0,5.0,5.5,6.5,6.5,6.0,6.0,7.0,6.0,6.0,6.5,7.0,6.5,6.0,6.5,7.5,6.5,6.5,7.0,7.5,7.0,6.5,7.0,7.5,7.0,7.0,7.5,8.0,7.5,7.0,7.5,8.0,7.5,7.0,7.5,8.5,8.0,7.5,8.0,8.5,8.0,7.5,8.0,8.5];

// ---------- Bedekkingsgraad ----------
const cloudOper = [50,66,61,100,99,83,100,100,100,100,100,0,98,100,100,100,100,100,100,100,93,100,100,100,55,0,30,100,100,100,100,100,100,100,67,87,78,100,100,100];
const cloudCtrl = [37,42,42,100,100,69,100,100,97,100,100,23,100,100,100,100,100,100,100,100,96,93,99,100,100,82,73,1,96,100,100,100,99,100,100,100,63,89,74,100,100,100,100,100,100,77,77,59,96,100,91,100,100,100,100,67,52,100,100,30];
const cloudHigh = [43,51,68,100,100,100,100,100,100,100,100,100,100,100,100,100,100,100,100,100,100,100,100,100,100,96.5,97.5,99,99,99,100,100,100,100,100,100,100,100,100,100,100,100,100,100,100,99,99,100,100,100,100,100,100,100,100,100,100,100,100,100];
const cloudLow = [30,36.5,29,87,98,84.5,100,100,100,99,98.7,23,80.5,99.5,100,93.5,99,81,90,96,83,85.3,88.5,65.3,19,4,16,56,31.5,52,41,64.5,77,55,55.5,54.5,62,61.5,83,73,49,78,69,67.5,33,73,78.5,71.5,62.3,61,61,84,61.5,55,71.5,64,51,40,55,70];
const cloudMed = [36,43,44.5,95,99,98.5,100,100,100,100,99,88.5,97,100,100,99,100,99,99,99,99,99,99.5,98,82.5,58,70,66,72,79.5,92.3,96,97,99,100,89,93.5,99,97.5,97.5,100,100,100,100,97,97,97,97,98,99,97,100,100,97,100,94,93,96.5,100,97];

// ---------- helpers (structure only) ----------
const idx = Array.from({ length: N }, (_, i) => i);
const val = (a: (number | null)[], i: number) => (i < a.length ? a[i] : null);

function buildRows(oper: number[], ctrl: number[], avg: number[], members: number[][]) {
  return idx.map((i) => {
    const r: any = { x: i, oper: val(oper, i), ctrl: val(ctrl, i), avg: val(avg, i) };
    members.forEach((m, k) => { r['m' + k] = val(m, i); });
    return r;
  });
}

const xTicks = idx; // 6-hourly
const dayTicks = dayLabels.map((_, k) => 1 + 4 * k);
const fmtX = (v: number) => ((v - 1) % 4 === 0 ? dayLabels[(v - 1) / 4] ?? '' : '');

const cloudXTicks = Array.from({ length: 59 }, (_, k) => 0.5 + k);
const cloudDayTicks = dayLabels.map((_, k) => 0.5 + 4 * k);
const fmtCloudX = (v: number) => {
  const k = v - 0.5;
  return k % 4 === 0 ? dayLabels[k / 4] ?? '' : '';
};

const tickStyle = { fontSize: 12, fontFamily: FONT, fill: '#000' };
const GREY = '#a0a0a0';

const Header = ({ title, cloud }: { title: string; cloud?: boolean }) => (
  <svg width={635} height={24} style={{ position: 'absolute', left: 0, top: 0, pointerEvents: 'none', overflow: 'visible' }}>
    {cloud ? (
      <g fontFamily={FONT} fontSize={13} fill="#000">
        <rect x={28.5} y={9.5} width={7} height={7} fill="#d03333" stroke="#333" strokeWidth={1} />
        <text x={39} y={18}>oper</text>
        <rect x={86.5} y={9.5} width={7} height={7} fill="#3333cc" stroke="#333" strokeWidth={1} />
        <text x={97} y={18}>control</text>
        <rect x={156.5} y={9.5} width={7} height={7} fill="#ffffa0" stroke="#333" strokeWidth={1} />
        <text x={166} y={18}>50%</text>
        <rect x={213.5} y={9.5} width={7} height={7} fill="#000" stroke="#333" strokeWidth={1} />
        <text x={224} y={18}>median</text>
      </g>
    ) : (
      <g fontFamily={FONT} fontSize={13} fill="#000">
        <line x1={28} x2={43} y1={13.5} y2={13.5} stroke="#d03333" strokeWidth={4} />
        <text x={47} y={18}>Oper</text>
        <line x1={96} x2={111} y1={13.5} y2={13.5} stroke="#3333cc" strokeWidth={4} />
        <text x={115} y={18}>Control</text>
        <line x1={175} x2={190} y1={13.5} y2={13.5} stroke="#9fd58a" strokeWidth={1.5} />
        <text x={193} y={18}>Members</text>
        <line x1={262} x2={277} y1={13.5} y2={13.5} stroke="#7a0000" strokeWidth={3} strokeDasharray="3 2" />
        <text x={281} y={18}>Average</text>
      </g>
    )}
    <text x={415} y={19.5} textAnchor="middle" fontFamily={FONT} fontSize={15} fontWeight="bold" fill="#000">{title}</text>
    <text x={634} y={8} textAnchor="end" fontFamily={FONT} fontSize={11} fill={GREY}>Infoplaza.nl - regio midden</text>
    <text x={634} y={17.5} textAnchor="end" fontFamily={FONT} fontSize={11} fill={GREY}>Gemaakt: zo 02 jan 22:00</text>
  </svg>
);

type RefSpec = { y: number; stroke: string; width: number; dash?: string };

function EnsemblePanel(props: {
  title: string; rows: any[]; nMembers: number; domain: [number, number]; ticks: number[]; refs?: RefSpec[];
}) {
  const { title, rows, nMembers, domain, ticks, refs = [] } = props;
  return (
    <div style={{ position: 'relative', width: 635, height: 300 }}>
      <LineChart width={635} height={300} data={rows} margin={{ top: 20, right: 0, left: 0, bottom: 0 }}>
        <CartesianGrid stroke="#dcdcdc" strokeWidth={1} />
        <XAxis type="number" dataKey="x" domain={[0, 59]} ticks={xTicks} interval={0} tickFormatter={fmtX}
          height={20} tickSize={5} tick={tickStyle} axisLine={{ stroke: '#000', strokeWidth: 1.5 }} tickLine={{ stroke: '#000' }} />
        <YAxis type="number" domain={domain} ticks={ticks} interval={0} width={28} tickSize={5}
          tick={tickStyle} axisLine={{ stroke: '#000', strokeWidth: 1.5 }} tickLine={{ stroke: '#000' }} />
        {dayTicks.map((d) => <ReferenceLine key={'d' + d} x={d} stroke="#4d4d4d" strokeWidth={1} />)}
        {Array.from({ length: nMembers }, (_, k) => (
          <Line key={'m' + k} dataKey={'m' + k} type="linear" stroke="#4aa62c" strokeOpacity={0.42} strokeWidth={1.2}
            dot={false} activeDot={false} isAnimationActive={false} />
        ))}
        {refs.map((r, i) => (
          <ReferenceLine key={'r' + i} y={r.y} stroke={r.stroke} strokeWidth={r.width} strokeDasharray={r.dash} />
        ))}
        <Line dataKey="avg" type="linear" stroke="#7a0000" strokeWidth={3} strokeDasharray="3 3" dot={false} activeDot={false} isAnimationActive={false} />
        <Line dataKey="ctrl" type="linear" stroke="#3333cc" strokeWidth={3.5} dot={false} activeDot={false} isAnimationActive={false} />
        <Line dataKey="oper" type="linear" stroke="#d03333" strokeWidth={3.5} dot={false} activeDot={false} isAnimationActive={false} />
      </LineChart>
      <Header title={title} />
    </div>
  );
}

const MedianDot = (p: any) => {
  if (p.cx == null || p.cy == null || p.value == null) return <g key={'md' + p.index} />;
  return <line key={'md' + p.index} x1={p.cx - 4} x2={p.cx + 4} y1={p.cy} y2={p.cy} stroke="#33331a" strokeWidth={1.5} />;
};

function CloudPanel() {
  const rows = idx.map((i) => ({
    x: i,
    range: [cloudLow[i], cloudHigh[i]],
    med: cloudMed[i],
    oper: val(cloudOper, i),
    ctrl: val(cloudCtrl, i),
  }));
  return (
    <div style={{ position: 'relative', width: 635, height: 300 }}>
      <ComposedChart width={635} height={300} data={rows} margin={{ top: 20, right: 0, left: 0, bottom: 0 }}>
        <CartesianGrid stroke="#dcdcdc" strokeWidth={1} />
        <XAxis type="number" dataKey="x" domain={[0, 59]} ticks={cloudXTicks} interval={0} tickFormatter={fmtCloudX}
          height={20} tickSize={5} tick={tickStyle} axisLine={{ stroke: '#000', strokeWidth: 1.5 }} tickLine={{ stroke: '#000' }} />
        <YAxis type="number" domain={[0, 100]} ticks={cloudTicks} interval={0} width={28} tickSize={5}
          tick={tickStyle} axisLine={{ stroke: '#000', strokeWidth: 1.5 }} tickLine={{ stroke: '#000' }} />
        {cloudDayTicks.map((d) => <ReferenceLine key={'d' + d} x={d} stroke="#4d4d4d" strokeWidth={1} />)}
        <Bar dataKey="range" barSize={8} fill="#ffffaa" stroke="#bdbdbd" strokeWidth={1.5} isAnimationActive={false} />
        <Line dataKey="med" stroke="none" strokeWidth={0} dot={MedianDot} activeDot={false} isAnimationActive={false} />
        <ReferenceLine y={100} stroke="#000" strokeWidth={1.5} />
        <Line dataKey="ctrl" type="linear" stroke="#888" strokeOpacity={0.35} strokeWidth={6} dot={false} activeDot={false} isAnimationActive={false} />
        <Line dataKey="oper" type="linear" stroke="#888" strokeOpacity={0.35} strokeWidth={6} dot={false} activeDot={false} isAnimationActive={false} />
        <Line dataKey="ctrl" type="linear" stroke="#3333cc" strokeWidth={2.5} dot={false} activeDot={false} isAnimationActive={false} />
        <Line dataKey="oper" type="linear" stroke="#d03333" strokeWidth={2.5} dot={false} activeDot={false} isAnimationActive={false} />
      </ComposedChart>
      <Header title="Bedekkingsgraad" cloud />
    </div>
  );
}

export default function App() {
  const tempRows = buildRows(tempOper, tempCtrl, tempAvg, [tempM1, tempM2, tempM3, tempM4, tempM5, tempM6, tempM7, tempM8, tempM9, tempM10, tempM11, tempM12]);
  const dewRows = buildRows(dewOper, dewCtrl, dewAvg, [dewM1, dewM2, dewM3, dewM4, dewM5, dewM6, dewM7, dewM8, dewM9, dewM10, dewM11, dewM12]);
  const rainRows = buildRows(rainOper, rainCtrl, rainAvg, [rainM1, rainM2, rainM3, rainM4, rainM5, rainM6, rainM7, rainM8, rainM9, rainM10, rainM11, rainM12]);
  const windRows = buildRows(windOper, windCtrl, windAvg, [windM1, windM2, windM3, windM4, windM5, windM6, windM7, windM8, windM9, windM10, windM11, windM12]);
  const gustRows = buildRows(gustOper, gustCtrl, gustAvg, [gustM1, gustM2, gustM3, gustM4, gustM5, gustM6, gustM7, gustM8, gustM9, gustM10, gustM11, gustM12]);
  return (
    <div style={{ position: 'absolute', left: 0, top: 0, width: 635, height: 1800, background: '#fff', fontFamily: FONT }}>
      <EnsemblePanel title="Temperatuur 2m" rows={tempRows} nMembers={12} domain={[-20, 15]} ticks={tempTicks}
        refs={[{ y: 0, stroke: '#000', width: 2.5 }]} />
      <EnsemblePanel title="Dauwpunt 2m" rows={dewRows} nMembers={12} domain={[-25, 15]} ticks={dewTicks} />
      <EnsemblePanel title="Neerslag" rows={rainRows} nMembers={12} domain={[0, 14]} ticks={rainTicks} />
      <EnsemblePanel title="10m wind" rows={windRows} nMembers={12} domain={[0, 18]} ticks={windTicks}
        refs={[{ y: 17.2, stroke: '#00404a', width: 1.5, dash: '2 2' }]} />
      <EnsemblePanel title="10m windstoten" rows={gustRows} nMembers={12} domain={[0, 30]} ticks={gustTicks}
        refs={[{ y: 28.9, stroke: '#ff44ff', width: 2, dash: '6 4' }, { y: 20.83, stroke: '#00404a', width: 1.5, dash: '2 2' }]} />
      <CloudPanel />
    </div>
  );
}
